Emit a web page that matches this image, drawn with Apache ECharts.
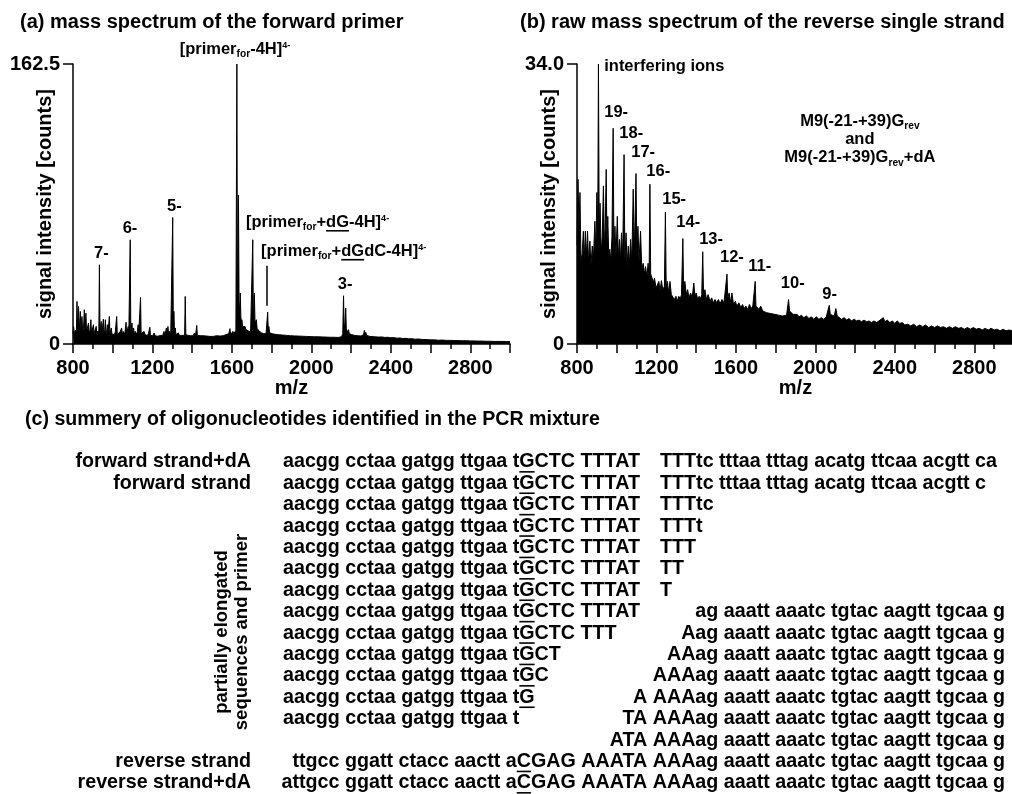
<!DOCTYPE html>
<html><head><meta charset="utf-8">
<script src="https://cdn.jsdelivr.net/npm/echarts@6/dist/echarts.min.js"></script>
<style>html,body{margin:0;padding:0;background:#fff}#c{width:1012px;height:794px}</style>
</head><body><div id="c"></div>
<script>
const FONT = '"Liberation Sans", Arial, Helvetica, sans-serif';

// ---------- panel (a): mass spectrum of the forward primer ----------
const spectrumA = [[800,6],[803,10.2],[807,6],[812,8],[817,6.5],[820,24.7],[823,8],[828,21.8],[831,7.5],[837,18.9],[840,8],[845,16],[849,7],[853,9],[857,19.9],[860,7.5],[865,18],[868,7],[872,9],[878,12.2],[881,6.5],[886,8],[890,14.1],[893,6.5],[898,7.5],[903,11.2],[906,6],[911,7],[917,10.2],[920,6],[925,7.5],[930,6],[933,46],[936,6.5],[942,13.1],[945,6],[949,7],[953,14.5],[956,6.5],[960,8],[963,14.1],[966,6],[970,7.5],[973,11.2],[976,6],[980,7],[983,16],[986,6],[990,7],[993,9.3],[996,5.8],[1003,6.4],[1008,5.5],[1013,7],[1020,16],[1023,5.5],[1028,6.5],[1033,5.5],[1038,7.3],[1045,9.3],[1048,5.5],[1053,7.3],[1058,5.5],[1062,7],[1067,12.6],[1070,6],[1074,7],[1078,10.2],[1081,6],[1085,7],[1088,60.5],[1091,7],[1094,8],[1097,12.2],[1100,6],[1105,9.3],[1109,5.8],[1114,7.3],[1119,5.5],[1124,7],[1128,11.2],[1131,6],[1135,6.5],[1140,27],[1143,6],[1148,6.4],[1153,5.2],[1158,7.3],[1163,5.3],[1168,6],[1175,5],[1180,6.2],[1187,9.7],[1190,5],[1196,5.4],[1202,4.8],[1208,6.4],[1214,4.8],[1220,5.4],[1227,4.5],[1233,4.4],[1240,5],[1246,6],[1252,5],[1258,7.3],[1263,5],[1270,9.3],[1274,6],[1278,10.2],[1281,6],[1286,7.3],[1292,5.5],[1297,6.5],[1302,73.4],[1305,12],[1308,18.9],[1311,7],[1315,9.3],[1318,5.5],[1323,5.4],[1330,6.4],[1336,5],[1342,5.4],[1348,5],[1352,6],[1358,5.4],[1362,5],[1365,27.6],[1368,5.4],[1373,6.4],[1380,5],[1386,5.4],[1392,4.8],[1398,5.4],[1405,4.8],[1411,6.4],[1417,5],[1423,10.8],[1426,5],[1432,5.4],[1440,4.8],[1448,4.5],[1456,4.8],[1465,4.2],[1473,4.6],[1482,4.2],[1490,4.4],[1498,4.0],[1506,4.4],[1515,4.2],[1523,4.8],[1532,4.4],[1540,4.6],[1548,4.4],[1556,4.8],[1563,4.6],[1570,5.4],[1577,5],[1584,6],[1590,8.9],[1593,5.5],[1598,6],[1605,7.3],[1610,6],[1615,6.5],[1620,8],[1625,162.5],[1628,20],[1630,30],[1633,86.5],[1636,25],[1639,18],[1642,29.6],[1645,16],[1648,12],[1650,14.1],[1654,10],[1658,11],[1662,9],[1666,10.2],[1671,8.3],[1676,8.8],[1682,7.6],[1688,8.3],[1694,7],[1700,7.3],[1703,8],[1705,60.5],[1708,15],[1710,20],[1713,29.6],[1716,14],[1720,12],[1723,14.1],[1727,9],[1732,9.3],[1737,7.5],[1742,7.3],[1748,6.5],[1754,6.8],[1760,6],[1766,6.4],[1772,6],[1776,7],[1780,18.5],[1783,8],[1786,10.2],[1790,6.5],[1796,6.8],[1803,6],[1810,6.2],[1818,5.6],[1826,5.8],[1835,5.4],[1845,5.6],[1855,5.2],[1865,5.4],[1875,5],[1885,5.2],[1895,4.8],[1905,5],[1915,4.7],[1925,4.9],[1935,4.6],[1945,4.8],[1955,4.5],[1965,4.7],[1975,4.4],[1985,4.6],[1995,4.3],[2005,4.5],[2015,4.2],[2025,4.4],[2035,4.2],[2045,4.3],[2055,4.1],[2065,4.3],[2075,4.0],[2085,4.2],[2095,3.9],[2105,4.1],[2115,3.9],[2125,4.0],[2135,3.8],[2145,4.0],[2152,4.2],[2158,6],[2162,28],[2165,10],[2169,12],[2173,20.9],[2176,9],[2180,7],[2184,7.5],[2187,8.3],[2191,6],[2196,6.5],[2202,5.5],[2210,5.8],[2218,5],[2226,5.2],[2234,4.8],[2242,5],[2250,4.6],[2258,5],[2263,5.5],[2267,7.9],[2270,5.5],[2274,6.8],[2278,5],[2285,5.2],[2295,4.4],[2305,4.6],[2315,4.2],[2325,4.3],[2340,4.0],[2355,4.1],[2370,3.8],[2385,3.9],[2400,3.6],[2415,3.7],[2430,3.4],[2445,3.5],[2460,3.2],[2475,3.3],[2490,3.0],[2505,3.1],[2520,2.8],[2540,2.9],[2560,2.6],[2580,2.6],[2600,2.4],[2620,2.4],[2640,2.2],[2660,2.3],[2680,2.1],[2700,2.1],[2720,2.0],[2740,2.0],[2760,1.9],[2780,1.9],[2800,1.8],[2820,1.8],[2840,1.7],[2860,1.7],[2880,1.6],[2900,1.6],[2920,1.5],[2940,1.5],[2960,1.5],[2980,1.4],[3000,1.4]];

// ---------- panel (b): raw mass spectrum of the reverse single strand ----------
const spectrumB = [[800,12],[805,20],[810,14],[815,18.4],[820,10],[826,11],[832,13.7],[836,10],[842,13.7],[847,10.5],[853,13.7],[858,10],[865,12.5],[870,9.5],[877,11.9],[882,10],[890,14.9],[895,11],[900,18.4],[904,12],[908,34],[912,13],[916,17.1],[922,11],[927,13],[933,19.2],[938,12],[942,14],[947,21.2],[951,12],[955,15.5],[960,10.5],[965,11.5],[970,10],[976,13],[982,26.2],[986,11],[991,14.3],[996,10.5],[1003,15.5],[1008,10.5],[1014,12.7],[1019,10],[1024,13.5],[1030,10.5],[1037,23],[1041,10],[1047,13.5],[1052,9.5],[1058,11.9],[1063,9.5],[1070,12.7],[1076,10],[1083,18.8],[1088,11],[1092,15],[1097,20.7],[1101,12],[1107,14.3],[1112,10],[1120,13.7],[1126,9],[1133,9.8],[1140,8.5],[1145,9.4],[1152,8.2],[1158,9.8],[1163,8],[1167,19.4],[1171,8.5],[1177,8.6],[1185,7.5],[1190,8],[1198,6.8],[1205,6.6],[1212,7.6],[1218,6.5],[1225,7.7],[1232,6.6],[1240,7],[1245,16],[1249,7],[1255,7.6],[1262,6.2],[1268,7.6],[1275,6],[1282,6.2],[1290,5.4],[1298,5.8],[1305,5.2],[1312,5.8],[1320,5.5],[1326,6],[1333,12.8],[1337,6.2],[1343,7.6],[1350,6],[1357,6.6],[1364,5.6],[1372,6.2],[1380,5.6],[1388,7.4],[1394,5.8],[1400,6.2],[1408,5.4],[1415,5.8],[1422,5.5],[1428,6],[1433,11.2],[1437,6],[1444,6.6],[1452,5.4],[1460,6],[1470,5.2],[1478,5.6],[1487,5],[1495,5.4],[1503,5],[1512,5.4],[1520,4.9],[1530,5.4],[1540,5],[1548,5.2],[1555,8.5],[1559,5.6],[1566,6.2],[1574,5],[1580,6.2],[1588,4.8],[1597,5.2],[1605,4.6],[1615,5],[1625,4.4],[1633,4.8],[1642,4.3],[1650,4.6],[1660,4.2],[1668,4.8],[1677,4.3],[1685,4.6],[1693,4.4],[1697,7.6],[1701,4.6],[1708,4.6],[1716,4.2],[1725,4.6],[1735,4.0],[1745,4.2],[1755,3.8],[1765,4.0],[1775,3.7],[1785,3.9],[1795,3.6],[1805,3.8],[1815,3.5],[1825,3.7],[1835,3.4],[1845,3.6],[1855,3.5],[1865,5.4],[1870,4.0],[1878,3.8],[1888,3.6],[1898,3.4],[1908,3.6],[1918,3.3],[1930,3.5],[1942,3.2],[1955,3.4],[1968,3.1],[1980,3.3],[1992,3.0],[2005,3.3],[2018,3.0],[2030,3.2],[2042,3.0],[2055,3.3],[2065,3.2],[2070,4.7],[2075,3.6],[2085,3.8],[2095,3.4],[2103,4.3],[2110,3.4],[2120,3.3],[2132,3.0],[2145,3.2],[2158,2.9],[2170,3.1],[2182,2.8],[2195,3.0],[2208,2.8],[2220,2.9],[2232,2.7],[2245,2.9],[2258,2.7],[2270,2.8],[2282,2.6],[2295,2.8],[2308,2.6],[2320,2.8],[2330,2.7],[2342,3.2],[2350,2.7],[2362,2.9],[2375,2.6],[2388,2.8],[2400,2.5],[2412,2.8],[2425,2.5],[2438,2.6],[2450,2.3],[2465,2.4],[2480,2.2],[2495,2.4],[2510,2.1],[2525,2.3],[2540,2.1],[2555,2.3],[2570,2.0],[2585,2.2],[2600,2.0],[2615,2.2],[2630,2.0],[2645,2.1],[2660,1.9],[2675,2.1],[2690,1.9],[2705,2.1],[2720,1.9],[2735,2.0],[2750,1.8],[2765,2.0],[2780,1.8],[2795,2.0],[2810,1.8],[2825,1.9],[2840,1.7],[2855,1.9],[2870,1.7],[2885,1.9],[2900,1.7],[2915,1.8],[2930,1.6],[2945,1.8],[2960,1.6],[2975,1.7],[2990,1.6],[3000,1.7]];

// axes
const xMin = 800, xMax = 3000, xTickStep = 200;
const xTickLabels = [800, 1200, 1600, 2000, 2400, 2800];
const yMaxA = 162.5, yMaxB = 34.0;
const yTickLabelsA = ['0', '162.5'];
const yTickLabelsB = ['0', '34.0'];

// annotations (text anchored in data coordinates)
const annotationsA = [
  {text:'[primer_{for}-4H]^{4-}', mz:1337, val:171, align:'left'},
  {text:'5-', mz:1310, val:79.8, align:'center'},
  {text:'6-', mz:1087, val:67.2, align:'center'},
  {text:'7-', mz:943, val:52.8, align:'center'},
  {text:'[primer_{for}+~dG~-4H]^{4-}', mz:1671, val:70.5, align:'left'},
  {text:'[primer_{for}+~dG~dC-4H]^{4-}', mz:1747, val:53.7, align:'left'},
  {text:'3-', mz:2170, val:34.4, align:'center'}
];
const pointerLinesA = [{mz:1777, from:22.2, to:45.4}];
const annotationsB = [
  {text:'interfering ions', mz:937, val:33.7, align:'left'},
  {text:'19-', mz:997, val:28.1, align:'center'},
  {text:'18-', mz:1073, val:25.6, align:'center'},
  {text:'17-', mz:1133, val:23.2, align:'center'},
  {text:'16-', mz:1209, val:20.9, align:'center'},
  {text:'15-', mz:1289, val:17.6, align:'center'},
  {text:'14-', mz:1360, val:14.8, align:'center'},
  {text:'13-', mz:1475, val:12.7, align:'center'},
  {text:'12-', mz:1580, val:10.5, align:'center'},
  {text:'11-', mz:1720, val:9.4, align:'center'},
  {text:'10-', mz:1886, val:7.3, align:'center'},
  {text:'9-', mz:2072, val:6.0, align:'center'},
  {text:'M9(-21-+39)G_{rev}', mz:2224, val:27.0, align:'center'},
  {text:'and', mz:2224, val:24.8, align:'center'},
  {text:'M9(-21-+39)G_{rev}+dA', mz:2224, val:22.6, align:'center'}
];

// panel titles
const titleA = '(a) mass spectrum of the forward primer';
const titleB = '(b) raw mass spectrum of the reverse single strand';
const titleC = '(c) summery of oligonucleotides identified in the PCR mixture';
const yAxisName = 'signal intensity [counts]';
const xAxisName = 'm/z';

// ---------- table (c) ----------
const rowLabels = ['forward strand+dA','forward strand','','','','','','','','','','','','','reverse strand','reverse strand+dA'];
const groupLabel = 'partially elongated\nsequences and primer';
const seqPrimer = [
  'aacgg cctaa gatgg ttgaa t~G~CTC TTTAT',
  'aacgg cctaa gatgg ttgaa t~G~CTC TTTAT',
  'aacgg cctaa gatgg ttgaa t~G~CTC TTTAT',
  'aacgg cctaa gatgg ttgaa t~G~CTC TTTAT',
  'aacgg cctaa gatgg ttgaa t~G~CTC TTTAT',
  'aacgg cctaa gatgg ttgaa t~G~CTC TTTAT',
  'aacgg cctaa gatgg ttgaa t~G~CTC TTTAT',
  'aacgg cctaa gatgg ttgaa t~G~CTC TTTAT',
  'aacgg cctaa gatgg ttgaa t~G~CTC TTT',
  'aacgg cctaa gatgg ttgaa t~G~CT',
  'aacgg cctaa gatgg ttgaa t~G~C',
  'aacgg cctaa gatgg ttgaa t~G~',
  'aacgg cctaa gatgg ttgaa t',
  '', '', ''
];
const seqExtension = [
  'TTTtc tttaa tttag acatg ttcaa acgtt ca',
  'TTTtc tttaa tttag acatg ttcaa acgtt c',
  'TTTtc','TTTt','TTT','TT','T',
  '', '', '', '', '', '', '', '', ''
];
const seqReverse = [
  '', '', '', '', '', '', '',
  'ag aaatt aaatc tgtac aagtt tgcaa g',
  'Aag aaatt aaatc tgtac aagtt tgcaa g',
  'AAag aaatt aaatc tgtac aagtt tgcaa g',
  'AAAag aaatt aaatc tgtac aagtt tgcaa g',
  'A AAAag aaatt aaatc tgtac aagtt tgcaa g',
  'TA AAAag aaatt aaatc tgtac aagtt tgcaa g',
  'ATA AAAag aaatt aaatc tgtac aagtt tgcaa g',
  'ttgcc ggatt ctacc aactt a~C~GAG AAATA AAAag aaatt aaatc tgtac aagtt tgcaa g',
  'attgcc ggatt ctacc aactt a~C~GAG AAATA AAAag aaatt aaatc tgtac aagtt tgcaa g'
];

// ---------- helpers ----------
const mctx = document.createElement('canvas').getContext('2d');
function tw(t, size){ mctx.font = 'bold ' + size + 'px ' + FONT; return mctx.measureText(t).width; }
function parse(str){
  const segs = []; let buf = ''; let i = 0;
  const push = (t,k) => { if (t) segs.push({t:t, k:k}); };
  while (i < str.length) {
    const c = str[i];
    if ((c === '_' || c === '^') && str[i+1] === '{') {
      push(buf,'n'); buf = '';
      const j = str.indexOf('}', i);
      push(str.slice(i+2, j), c === '_' ? 'sub' : 'sup'); i = j + 1; continue;
    }
    if (c === '~') {
      push(buf,'n'); buf = '';
      const j = str.indexOf('~', i+1);
      push(str.slice(i+1, j), 'u'); i = j + 1; continue;
    }
    buf += c; i++;
  }
  push(buf,'n');
  return segs;
}
function layout(str, x, y, size, align, out){
  const segs = parse(str);
  segs.forEach(s => {
    s.size = (s.k === 'sub') ? size*0.62 : (s.k === 'sup') ? size*0.55 : size;
    s.w = tw(s.t, s.size);
  });
  const total = segs.reduce((a,s) => a + s.w, 0);
  let cx = align === 'left' ? x : align === 'right' ? x - total : x - total/2;
  segs.forEach(s => {
    const dy = s.k === 'sub' ? size*0.3 : s.k === 'sup' ? -size*0.24 : 0;
    out.push({type:'text', silent:true, z:100, style:{text:s.t, x:cx, y:y+dy, fill:'#000',
      font:'bold ' + s.size + 'px ' + FONT, align:'left', verticalAlign:'middle',
      textAlign:'left', textVerticalAlign:'middle'}});
    if (s.k === 'u') {
      const uy = y + size*0.5;
      out.push({type:'line', silent:true, z:100, shape:{x1:cx, y1:uy, x2:cx+s.w, y2:uy},
        style:{stroke:'#000', lineWidth:1.6}});
    }
    cx += s.w;
  });
}

const chart = echarts.init(document.getElementById('c'), null, {renderer:'canvas'});
const axisFont = {fontSize:20, fontWeight:'bold', fontFamily:FONT, color:'#000'};
function xAxisCfg(gi){
  return {type:'value', gridIndex:gi, min:xMin, max:xMax, interval:xTickStep,
    name:xAxisName, nameLocation:'middle', nameGap:34, nameTextStyle:axisFont, nameMoveOverlap:false,
    axisLine:{show:true, onZero:false, lineStyle:{color:'#000', width:1.5}},
    axisTick:{show:true, length:9, lineStyle:{color:'#000', width:1.5}},
    minorTick:{show:true, splitNumber:2, length:5, lineStyle:{color:'#000', width:1.5}},
    splitLine:{show:false}, minorSplitLine:{show:false},
    axisLabel:Object.assign({margin:14, showMaxLabel:true, showMinLabel:true, hideOverlap:false,
      formatter: v => xTickLabels.indexOf(v) >= 0 ? String(v) : ''}, axisFont)};
}
function yAxisCfg(gi, ymax, labels){
  return {type:'value', gridIndex:gi, min:0, max:ymax, interval:ymax,
    name:yAxisName, nameLocation:'middle', nameGap:18, nameTextStyle:axisFont, nameMoveOverlap:false,
    axisLine:{show:true, lineStyle:{color:'#000', width:1.5}},
    axisTick:{show:true, length:10, lineStyle:{color:'#000', width:1.5}},
    splitLine:{show:false},
    axisLabel:Object.assign({margin:13, formatter: v => v === 0 ? labels[0] : labels[1]}, axisFont)};
}
function specSeries(gi, data, extra){
  return Object.assign({type:'line', xAxisIndex:gi, yAxisIndex:gi, data:data, showSymbol:false,
    symbol:'none', sampling:null, clip:true, silent:true,
    lineStyle:{color:'#000', width:1}, areaStyle:{color:'#000', opacity:1}}, extra || {});
}

chart.setOption({
  animation:false,
  grid:[
    {left:73, top:64, width:437, height:280, outerBoundsMode:'none', containLabel:false},
    {left:577, top:64, width:437, height:280, outerBoundsMode:'none', containLabel:false}
  ],
  xAxis:[xAxisCfg(0), xAxisCfg(1)],
  yAxis:[yAxisCfg(0, yMaxA, yTickLabelsA), yAxisCfg(1, yMaxB, yTickLabelsB)],
  series:[
    specSeries(0, spectrumA, {markLine:{silent:true, symbol:['none','none'], animation:false,
      label:{show:false}, lineStyle:{color:'#000', width:1.5, type:'solid'},
      data: pointerLinesA.map(p => [{coord:[p.mz, p.from]}, {coord:[p.mz, p.to]}])}}),
    specSeries(1, spectrumB)
  ]
});

const els = [];
// titles
layout(titleA, 20, 22, 20, 'left', els);
layout(titleB, 520, 22, 20, 'left', els);
layout(titleC, 25, 420, 19.6, 'left', els);
// annotations
annotationsA.forEach(a => {
  const p = chart.convertToPixel({gridIndex:0}, [a.mz, a.val]);
  layout(a.text, p[0], p[1], 16.5, a.align, els);
});
annotationsB.forEach(a => {
  const p = chart.convertToPixel({gridIndex:1}, [a.mz, a.val]);
  layout(a.text, p[0], p[1], 16.5, a.align, els);
});
// table
const rowY0 = 462, rowStep = 21.4, rowSize = 19.7;
const labelRight = 251, colPrimerX = 283, colExtX = 660, colRevRight = 1005;
rowLabels.forEach((t, i) => {
  const y = rowY0 + i*rowStep;
  if (t) layout(t, labelRight, y, rowSize, 'right', els);
  if (seqPrimer[i]) layout(seqPrimer[i], colPrimerX, y, rowSize, 'left', els);
  if (seqExtension[i]) layout(seqExtension[i], colExtX, y, rowSize, 'left', els);
  if (seqReverse[i]) layout(seqReverse[i], colRevRight, y, rowSize, 'right', els);
});
els.push({type:'text', silent:true, x:232, y:632, rotation:Math.PI/2,
  style:{text:groupLabel, x:0, y:0, fill:'#000', font:'bold 18.5px ' + FONT, lineHeight:20,
    align:'center', verticalAlign:'middle', textAlign:'center', textVerticalAlign:'middle'}});

chart.setOption({graphic:{elements:els}});
</script>
</body></html>
